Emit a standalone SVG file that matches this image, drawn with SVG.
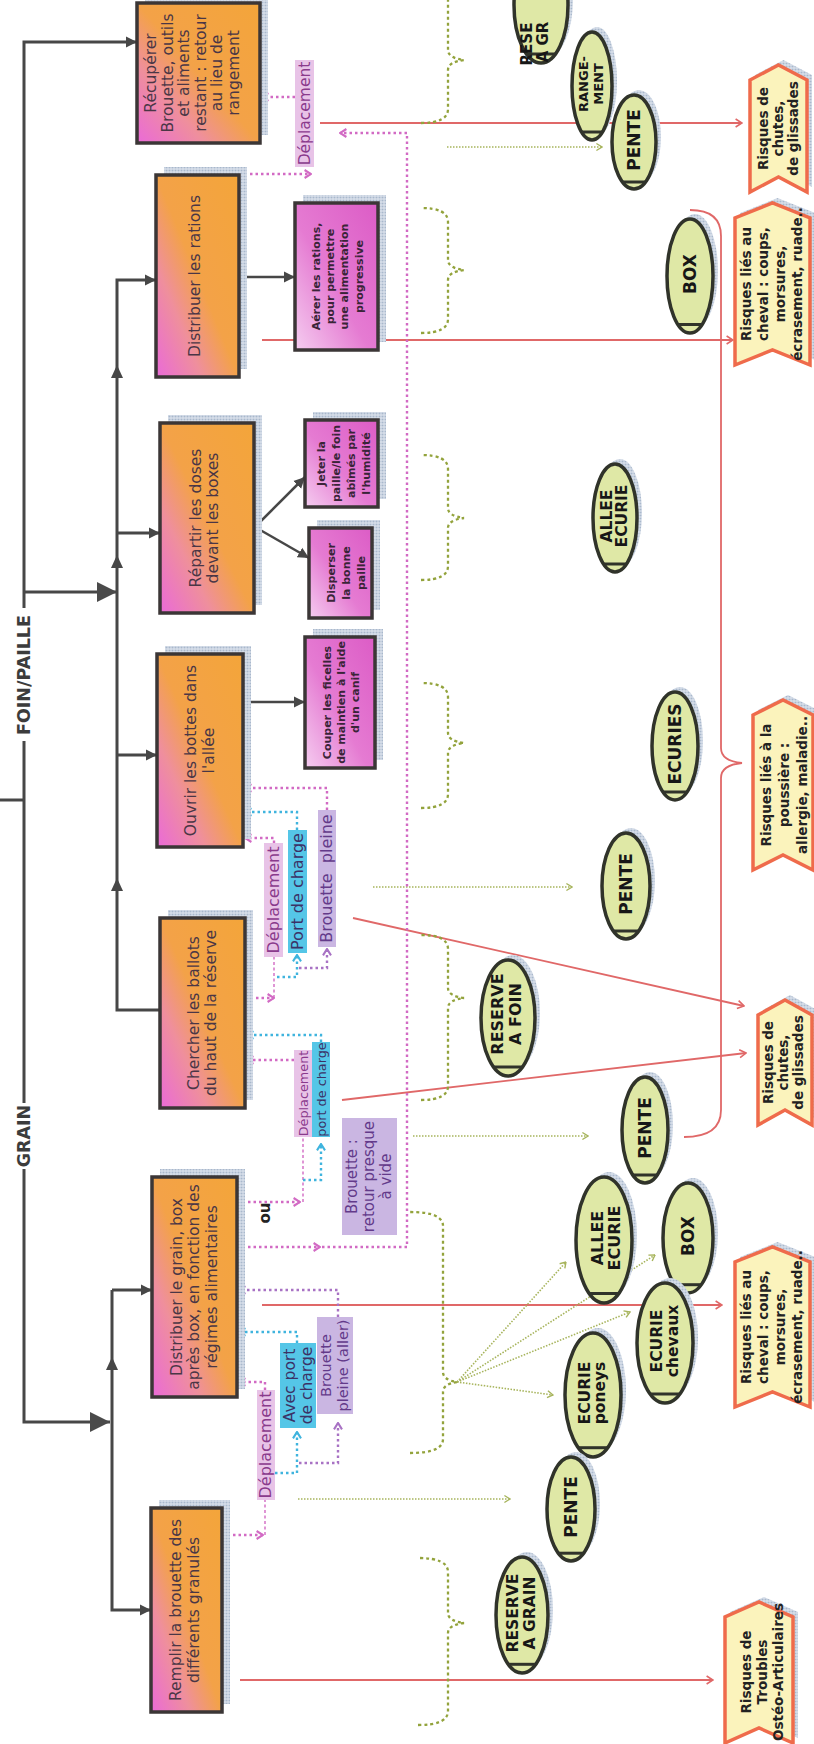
<svg xmlns="http://www.w3.org/2000/svg" width="814" height="1744" viewBox="0 0 814 1744">
<style>
  text { font-family: "DejaVu Sans", "Liberation Sans", sans-serif; }
  .bx { stroke:#3b3636; stroke-width:3.5; }
  .main { fill:url(#gMain); }
  .sub { fill:url(#gSub); }
  .shd { fill:url(#dots); }
  .mt { font-size:15.5px; fill:#4a3646; text-anchor:middle; }
  .st { font-size:11px; font-weight:bold; fill:#3a2438; text-anchor:middle; }
  .tree { fill:none; stroke:#474747; stroke-width:3; }
  .tree2 { fill:none; stroke:#474747; stroke-width:2.5; }
  .tip { fill:#474747; }
  .pk { fill:none; stroke:#d26ac4; stroke-width:2.4; stroke-dasharray:2.5 3; }
  .bl { fill:none; stroke:#3fb4de; stroke-width:2.4; stroke-dasharray:2.5 3; }
  .pu { fill:none; stroke:#a872c4; stroke-width:2.4; stroke-dasharray:2.5 3; }
  .thin { stroke-width:1.4; stroke-dasharray:3 2.5; }
  .gb { fill:none; stroke:#93a33c; stroke-width:2.3; stroke-dasharray:3 3; }
  .ga { fill:none; stroke:#a7b45c; stroke-width:1.6; stroke-dasharray:1.5 1.5; }
  .rd { fill:none; stroke:#e06868; stroke-width:1.8; }
  .ov { fill:#dfe8a6; stroke:#30332a; stroke-width:3.5; }
  .chord { stroke:#30332a; stroke-width:3; }
  .ot { font-weight:bold; fill:#171717; text-anchor:middle; }
  .rk { fill:#fbf3bc; stroke:#ef6b4b; stroke-width:3.5; }
  .rt { font-size:13.5px; font-weight:bold; fill:#222; text-anchor:middle; }
  .lp { fill:#e8c3e7; } .lpt { fill:#8a3a8c; text-anchor:middle; }
  .lb { fill:#55c6e7; } .lbt { fill:#3b3266; text-anchor:middle; }
  .lv { fill:#cab6e2; } .lvt { fill:#633a8a; text-anchor:middle; }
  .hd { font-size:17.5px; font-weight:bold; fill:#3c3c3c; text-anchor:middle; }
</style>
<defs>
  <linearGradient id="gMain" x1="0" y1="0" x2="1" y2="1">
    <stop offset="0" stop-color="#ea6ad8"/>
    <stop offset="0.28" stop-color="#ef8f9c"/>
    <stop offset="0.5" stop-color="#f3a248"/>
    <stop offset="1" stop-color="#f3a53a"/>
  </linearGradient>
  <linearGradient id="gSub" x1="0" y1="0" x2="1" y2="1">
    <stop offset="0" stop-color="#f5cdf0"/>
    <stop offset="0.45" stop-color="#e57bd2"/>
    <stop offset="1" stop-color="#dc5cc6"/>
  </linearGradient>
  <pattern id="dots" width="3" height="3" patternUnits="userSpaceOnUse">
    <rect width="3" height="3" fill="#d6dee9"/>
    <circle cx="1.5" cy="1.5" r="0.9" fill="#a9b8cc"/>
  </pattern>
  <marker id="ah" viewBox="0 0 10 10" refX="10" refY="5" markerWidth="11" markerHeight="12" markerUnits="userSpaceOnUse" orient="auto"><path d="M0,0 L10,5 L0,10 z" fill="#474747"/></marker>
  <marker id="ahBig" viewBox="0 0 10 10" refX="10" refY="5" markerWidth="22" markerHeight="20" markerUnits="userSpaceOnUse" orient="auto"><path d="M0,0 L10,5 L0,10 z" fill="#4a4a4a"/></marker>
  <marker id="cp" viewBox="0 0 10 12" refX="9" refY="6" markerWidth="8" markerHeight="11" markerUnits="userSpaceOnUse" orient="auto"><path d="M1,1 L9,6 L1,11" fill="none" stroke="#d26ac4" stroke-width="2.6"/></marker>
  <marker id="cb" viewBox="0 0 10 12" refX="9" refY="6" markerWidth="8" markerHeight="11" markerUnits="userSpaceOnUse" orient="auto"><path d="M1,1 L9,6 L1,11" fill="none" stroke="#3fb4de" stroke-width="2.6"/></marker>
  <marker id="cv" viewBox="0 0 10 12" refX="9" refY="6" markerWidth="8" markerHeight="11" markerUnits="userSpaceOnUse" orient="auto"><path d="M1,1 L9,6 L1,11" fill="none" stroke="#a872c4" stroke-width="2.6"/></marker>
  <marker id="cg" viewBox="0 0 10 12" refX="9" refY="6" markerWidth="7" markerHeight="10" markerUnits="userSpaceOnUse" orient="auto"><path d="M1,1 L9,6 L1,11" fill="none" stroke="#a7b45c" stroke-width="2"/></marker>
  <marker id="cr" viewBox="0 0 10 12" refX="9" refY="6" markerWidth="8" markerHeight="11" markerUnits="userSpaceOnUse" orient="auto"><path d="M1,1 L9,6 L1,11" fill="none" stroke="#e06868" stroke-width="2"/></marker>
</defs>
<rect width="814" height="1744" fill="#ffffff"/>

<!-- the whole sheet is laid out landscape and turned a quarter turn -->
<g id="sheet" transform="translate(0,1744) rotate(-90)">

  <g id="connectors">
    <!-- task tree -->
    <path class="tree" d="M944,0 V24"/>
    <path class="tree" d="M575,24 H322 V110" marker-end="url(#ahBig)"/>
    <path class="tree" d="M641,24 H1003"/>
    <path class="tree" d="M1136,24 H1702 V137" marker-end="url(#ah)"/>
    <path class="tree" d="M1152,24 V117" marker-end="url(#ahBig)"/>
    <path class="tree" d="M734,160 V117 H1464 V156" marker-end="url(#ah)"/>
    <path class="tree" d="M1211,117 V160" marker-end="url(#ah)"/>
    <path class="tree" d="M989,117 V157" marker-end="url(#ah)"/>
    <path class="tree" d="M454,112 H134 V151" marker-end="url(#ah)"/>
    <path class="tree" d="M454,112 V152" marker-end="url(#ah)"/>
    <path class="tip" d="M866,117 l-13,-6 v12 z"/>
    <path class="tip" d="M1189,117 l-13,-6 v12 z"/>
    <path class="tip" d="M1379,117 l-13,-6 v12 z"/>
    <path class="tip" d="M387,112 l-13,-6 v12 z"/>
    <path class="tree2" d="M1467,239 V295" marker-end="url(#ah)"/>
    <path class="tree2" d="M1042,243 V305" marker-end="url(#ah)"/>
    <path class="tree2" d="M1217,255 L1267,305" marker-end="url(#ah)"/>
    <path class="tree2" d="M1217,255 L1186,309" marker-end="url(#ah)"/>

    <!-- red risk links -->
    <path class="rd" d="M1621,320 V742" marker-end="url(#cr)"/>
    <path class="rd" d="M1404,262 V733" marker-end="url(#cr)"/>
    <path class="rd" d="M1534,690 Q1534,721 1508,721 H996 Q983,721 981,742 Q979,721 966,721 H634 Q607,721 607,684"/>
    <path class="rd" d="M826,353 L738,744" marker-end="url(#cr)"/>
    <path class="rd" d="M644,342 L691,746" marker-end="url(#cr)"/>
    <path class="rd" d="M439,262 V722" marker-end="url(#cr)"/>
    <path class="rd" d="M64,240 V713" marker-end="url(#cr)"/>

    <!-- green place braces and arrows -->
    <path class="gb" d="M1621,421 Q1621,448 1635,448 H1674 Q1682,448 1684,464 Q1686,448 1694,448 H1746 Q1760,448 1760,421"/>
    <path class="gb" d="M1411,421 Q1411,448 1425,448 H1464 Q1472,448 1474,464 Q1476,448 1484,448 H1522 Q1536,448 1536,421"/>
    <path class="gb" d="M1164,421 Q1164,448 1178,448 H1216 Q1224,448 1226,464 Q1228,448 1236,448 H1275 Q1289,448 1289,421"/>
    <path class="gb" d="M936,421 Q936,448 950,448 H991 Q999,448 1001,464 Q1003,448 1011,448 H1047 Q1061,448 1061,421"/>
    <path class="gb" d="M644,421 Q644,448 658,448 H736 Q744,448 746,464 Q748,448 756,448 H795 Q809,448 809,421"/>
    <path class="gb" d="M291,410 Q291,443 305,443 H352 Q360,443 362,457 Q364,443 372,443 H518 Q532,443 532,410"/>
    <path class="gb" d="M19,418 Q19,448 33,448 H111 Q119,448 121,464 Q123,448 131,448 H172 Q186,448 186,418"/>
    <path class="ga" d="M1597,447 V602" marker-end="url(#cg)"/>
    <path class="ga" d="M857,373 V572" marker-end="url(#cg)"/>
    <path class="ga" d="M608,413 V588" marker-end="url(#cg)"/>
    <path class="ga" d="M245,298 V510" marker-end="url(#cg)"/>
    <path class="ga" d="M362,457 L349,553" marker-end="url(#cg)"/>
    <path class="ga" d="M362,457 L432,630" marker-end="url(#cg)"/>
    <path class="ga" d="M362,457 L482,566" marker-end="url(#cg)"/>
    <path class="ga" d="M362,457 L489,655" marker-end="url(#cg)"/>

    <!-- movement links: grain -->
    <path class="pk" d="M209,222 V263" marker-end="url(#cp)"/>
    <path class="pk thin" d="M209,265 H244"/>
    <path class="pk" d="M354,265 H362 V239" marker-end="url(#cp)"/>
    <path class="bl" d="M271,275 V297 H312" marker-end="url(#cb)"/>
    <path class="bl" d="M401,297 H412 V239" marker-end="url(#cb)"/>
    <path class="pu" d="M281,299 V338 H321" marker-end="url(#cv)"/>
    <path class="pu" d="M427,338 H454 V239" marker-end="url(#cv)"/>
    <path class="pk" d="M497,237 V320" marker-end="url(#cp)"/>
    <path class="pk" d="M497,322 V407 H1611 V340" marker-end="url(#cp)"/>
    <path class="pk" d="M542,237 V300" marker-end="url(#cp)"/>
    <path class="pk thin" d="M542,303 H607"/>
    <path class="bl" d="M564,303 V321 H600" marker-end="url(#cb)"/>
    <path class="pk" d="M684,294 V247" marker-end="url(#cp)"/>
    <path class="bl" d="M702,321 H709 V247" marker-end="url(#cb)"/>

    <!-- movement links: hay / straw -->
    <path class="pk" d="M746,245 V274" marker-end="url(#cp)"/>
    <path class="pk thin" d="M746,274 H787"/>
    <path class="bl" d="M767,277 V297 H789" marker-end="url(#cb)"/>
    <path class="pu" d="M776,299 V327 H795" marker-end="url(#cv)"/>
    <path class="pk" d="M901,274 H906 V245" marker-end="url(#cp)"/>
    <path class="bl" d="M914,297 H932 V245" marker-end="url(#cb)"/>
    <path class="pk" d="M934,327 H956 V245" marker-end="url(#cp)"/>

    <!-- movement links: tidy up -->
    <path class="pk" d="M1570,239 V311" marker-end="url(#cp)"/>
    <path class="pk" d="M1647,295 V262" marker-end="url(#cp)"/>
  </g>

  <g id="labels">
    <rect x="575" y="12" width="66" height="24" fill="#fff"/>
    <text class="hd" x="608" y="30">GRAIN</text>
    <text class="hd" x="1069" y="30">FOIN/PAILLE</text>

    <rect class="lp" x="244" y="257" width="110" height="18"/>
    <text class="lpt" x="299" y="271" font-size="16">Déplacement</text>
    <rect class="lb" x="316" y="280" width="85" height="36"/>
    <text class="lbt" font-size="15.5"><tspan x="358.5" y="295">Avec port</tspan><tspan x="358.5" y="312">de charge</tspan></text>
    <rect class="lv" x="330" y="317" width="97" height="36"/>
    <text class="lvt" font-size="14.5"><tspan x="378.5" y="331">Brouette</tspan><tspan x="378.5" y="348">pleine (aller)</tspan></text>

    <text x="531" y="270" font-size="15" font-weight="bold" fill="#222" text-anchor="middle">ou</text>
    <rect class="lv" x="509" y="342" width="117" height="55"/>
    <text class="lvt" font-size="15"><tspan x="567.5" y="357">Brouette :</tspan><tspan x="567.5" y="374">retour presque</tspan><tspan x="567.5" y="391">à vide</tspan></text>
    <rect class="lp" x="607" y="294" width="87" height="18"/>
    <text class="lpt" x="650.5" y="307.5" font-size="12.8">Déplacement</text>
    <rect class="lb" x="607" y="312" width="95" height="18"/>
    <text class="lbt" x="654.5" y="325.5" font-size="12.8">port de charge</text>

    <rect class="lp" x="787" y="264" width="114" height="19"/>
    <text class="lpt" x="844" y="278.5" font-size="16">Déplacement</text>
    <rect class="lb" x="791" y="288" width="123" height="19"/>
    <text class="lbt" x="852.5" y="302.5" font-size="16">Port de charge</text>
    <rect class="lv" x="797" y="318" width="137" height="18"/>
    <text class="lvt" x="865.5" y="332" font-size="16">Brouette&#160; pleine</text>

    <rect class="lp" x="1577" y="295" width="107" height="19"/>
    <text class="lpt" x="1630.5" y="309.5" font-size="15.5">Déplacement</text>
  </g>

  <!-- task boxes -->
  <g id="n-remplir">
    <rect class="shd" x="40" y="159" width="204" height="71"/>
    <rect class="bx main" x="32" y="151" width="204" height="71"/>
    <text class="mt"><tspan x="134" y="181">Remplir la brouette des</tspan><tspan x="134" y="199">différents granulés</tspan></text>
  </g>
  <g id="n-distribuer-grain">
    <rect class="shd" x="355" y="160" width="220" height="85"/>
    <rect class="bx main" x="347" y="152" width="220" height="85"/>
    <text class="mt"><tspan x="457" y="181.5">Distribuer le grain, box</tspan><tspan x="457" y="199">après box, en fonction des</tspan><tspan x="457" y="216.5">régimes alimentaires</tspan></text>
  </g>
  <g id="n-chercher">
    <rect class="shd" x="644" y="168" width="190" height="85"/>
    <rect class="bx main" x="636" y="160" width="190" height="85"/>
    <text class="mt"><tspan x="731" y="198.5">Chercher les ballots</tspan><tspan x="731" y="216">du haut de la réserve</tspan></text>
  </g>
  <g id="n-ouvrir">
    <rect class="shd" x="905" y="165" width="193" height="86"/>
    <rect class="bx main" x="897" y="157" width="193" height="86"/>
    <text class="mt"><tspan x="993.5" y="196">Ouvrir les bottes dans</tspan><tspan x="993.5" y="213.5">l'allée</tspan></text>
  </g>
  <g id="n-repartir">
    <rect class="shd" x="1139" y="168" width="190" height="94"/>
    <rect class="bx main" x="1131" y="160" width="190" height="94"/>
    <text class="mt"><tspan x="1226" y="201">Répartir les doses</tspan><tspan x="1226" y="218">devant les boxes</tspan></text>
  </g>
  <g id="n-rations">
    <rect class="shd" x="1375" y="164" width="202" height="83"/>
    <rect class="bx main" x="1367" y="156" width="202" height="83"/>
    <text class="mt" x="1468" y="200">Distribuer les rations</text>
  </g>
  <g id="n-recuperer">
    <rect class="shd" x="1609" y="145" width="140" height="123"/>
    <rect class="bx main" x="1601" y="137" width="140" height="123"/>
    <text class="mt"><tspan x="1671" y="156">Récupérer</tspan><tspan x="1671" y="172.6">Brouette, outils</tspan><tspan x="1671" y="189.2">et aliments</tspan><tspan x="1671" y="205.8">restant : retour</tspan><tspan x="1671" y="222.4">au lieu de</tspan><tspan x="1671" y="239">rangement</tspan></text>
  </g>

  <!-- detail boxes -->
  <g id="n-aerer">
    <rect class="shd" x="1402" y="303" width="147" height="83"/>
    <rect class="bx sub" x="1394" y="295" width="147" height="83"/>
    <text class="st"><tspan x="1467.5" y="320">Aérer les rations,</tspan><tspan x="1467.5" y="334.2">pour permettre</tspan><tspan x="1467.5" y="348.4">une alimentation</tspan><tspan x="1467.5" y="362.6">progressive</tspan></text>
  </g>
  <g id="n-jeter">
    <rect class="shd" x="1245" y="313" width="87" height="73"/>
    <rect class="bx sub" x="1237" y="305" width="87" height="73"/>
    <text class="st"><tspan x="1280.5" y="325">Jeter la</tspan><tspan x="1280.5" y="340">paille/le foin</tspan><tspan x="1280.5" y="355">abîmés par</tspan><tspan x="1280.5" y="370">l'humidité</tspan></text>
  </g>
  <g id="n-disperser">
    <rect class="shd" x="1134" y="317" width="90" height="63"/>
    <rect class="bx sub" x="1126" y="309" width="90" height="63"/>
    <text class="st"><tspan x="1171" y="335">Disperser</tspan><tspan x="1171" y="350">la bonne</tspan><tspan x="1171" y="365">paille</tspan></text>
  </g>
  <g id="n-couper">
    <rect class="shd" x="984" y="313" width="131" height="70"/>
    <rect class="bx sub" x="976" y="305" width="131" height="70"/>
    <text class="st"><tspan x="1041.5" y="331">Couper les ficelles</tspan><tspan x="1041.5" y="345">de maintien à l'aide</tspan><tspan x="1041.5" y="359">d'un canif</tspan></text>
  </g>

  <!-- places -->
  <g id="p-reserve-grain-haut">
    <ellipse class="shd" cx="1744" cy="546" rx="58" ry="27"/>
    <ellipse class="ov" cx="1739" cy="541" rx="58" ry="27"/>
    <line class="chord" x1="1690" y1="527" x2="1690" y2="555"/>
    <text class="ot" font-size="15" text-anchor="start"><tspan x="1700" y="532">RESE</tspan><tspan x="1702" y="548">A GR</tspan></text>
  </g>
  <g id="p-rangement">
    <ellipse class="shd" cx="1663" cy="597" rx="54" ry="20"/>
    <ellipse class="ov" cx="1658" cy="592" rx="54" ry="20"/>
    <line class="chord" x1="1612" y1="581.5" x2="1612" y2="602.5"/>
    <text class="ot" font-size="13"><tspan x="1660" y="588">RANGE-</tspan><tspan x="1660" y="603">MENT</tspan></text>
  </g>
  <g id="p-pente-1">
    <ellipse class="shd" cx="1607" cy="639" rx="47" ry="22"/>
    <ellipse class="ov" cx="1602" cy="634" rx="47" ry="22"/>
    <line class="chord" x1="1562" y1="622.4" x2="1562" y2="645.6"/>
    <text class="ot" font-size="17" x="1604" y="640">PENTE</text>
  </g>
  <g id="p-box-1">
    <ellipse class="shd" cx="1473" cy="695" rx="57" ry="23"/>
    <ellipse class="ov" cx="1468" cy="690" rx="57" ry="23"/>
    <line class="chord" x1="1419.5" y1="677.9" x2="1419.5" y2="702.1"/>
    <text class="ot" font-size="17" x="1470" y="696">BOX</text>
  </g>
  <g id="p-allee-1">
    <ellipse class="shd" cx="1231" cy="620" rx="54" ry="22"/>
    <ellipse class="ov" cx="1226" cy="615" rx="54" ry="22"/>
    <line class="chord" x1="1180" y1="603.4" x2="1180" y2="626.6"/>
    <text class="ot" font-size="15.5"><tspan x="1228" y="612">ALLEE</tspan><tspan x="1228" y="627">ECURIE</tspan></text>
  </g>
  <g id="p-ecuries">
    <ellipse class="shd" cx="1003" cy="680" rx="54" ry="23"/>
    <ellipse class="ov" cx="998" cy="675" rx="54" ry="23"/>
    <line class="chord" x1="952" y1="662.9" x2="952" y2="687.1"/>
    <text class="ot" font-size="17" x="1000" y="681">ECURIES</text>
  </g>
  <g id="p-pente-2">
    <ellipse class="shd" cx="863" cy="631" rx="53" ry="24"/>
    <ellipse class="ov" cx="858" cy="626" rx="53" ry="24"/>
    <line class="chord" x1="813" y1="613.4" x2="813" y2="638.6"/>
    <text class="ot" font-size="17" x="860" y="632">PENTE</text>
  </g>
  <g id="p-reserve-foin">
    <ellipse class="shd" cx="731" cy="513" rx="58" ry="27"/>
    <ellipse class="ov" cx="726" cy="508" rx="58" ry="27"/>
    <line class="chord" x1="677" y1="494" x2="677" y2="522"/>
    <text class="ot" font-size="16"><tspan x="730" y="503">RESERVE</tspan><tspan x="730" y="521">A FOIN</tspan></text>
  </g>
  <g id="p-pente-3">
    <ellipse class="shd" cx="619" cy="650" rx="53" ry="23"/>
    <ellipse class="ov" cx="614" cy="645" rx="53" ry="23"/>
    <line class="chord" x1="569" y1="632.9" x2="569" y2="657.1"/>
    <text class="ot" font-size="17" x="616" y="651">PENTE</text>
  </g>
  <g id="p-allee-2">
    <ellipse class="shd" cx="509" cy="609" rx="63" ry="28"/>
    <ellipse class="ov" cx="504" cy="604" rx="63" ry="28"/>
    <line class="chord" x1="450.5" y1="589.2" x2="450.5" y2="618.8"/>
    <text class="ot" font-size="16"><tspan x="506" y="603">ALLEE</tspan><tspan x="506" y="620">ECURIE</tspan></text>
  </g>
  <g id="p-box-2">
    <ellipse class="shd" cx="511" cy="693" rx="55" ry="25"/>
    <ellipse class="ov" cx="506" cy="688" rx="55" ry="25"/>
    <line class="chord" x1="459.3" y1="674.8" x2="459.3" y2="701.2"/>
    <text class="ot" font-size="17" x="508" y="694">BOX</text>
  </g>
  <g id="p-ecurie-chevaux">
    <ellipse class="shd" cx="406" cy="670" rx="60" ry="28"/>
    <ellipse class="ov" cx="401" cy="665" rx="60" ry="28"/>
    <line class="chord" x1="350" y1="650.2" x2="350" y2="679.8"/>
    <text class="ot" font-size="15.5"><tspan x="403" y="662">ECURIE</tspan><tspan x="403" y="678">chevaux</tspan></text>
  </g>
  <g id="p-ecurie-poneys">
    <ellipse class="shd" cx="354" cy="598" rx="62" ry="28"/>
    <ellipse class="ov" cx="349" cy="593" rx="62" ry="28"/>
    <line class="chord" x1="296.3" y1="578.2" x2="296.3" y2="607.8"/>
    <text class="ot" font-size="15.5"><tspan x="351" y="590">ECURIE</tspan><tspan x="351" y="605">poneys</tspan></text>
  </g>
  <g id="p-pente-4">
    <ellipse class="shd" cx="240" cy="576" rx="52" ry="24"/>
    <ellipse class="ov" cx="235" cy="571" rx="52" ry="24"/>
    <line class="chord" x1="190.8" y1="558.4" x2="190.8" y2="583.6"/>
    <text class="ot" font-size="17" x="237" y="577">PENTE</text>
  </g>
  <g id="p-reserve-grain">
    <ellipse class="shd" cx="134" cy="527" rx="58" ry="26"/>
    <ellipse class="ov" cx="129" cy="522" rx="58" ry="26"/>
    <line class="chord" x1="79.7" y1="508.3" x2="79.7" y2="535.7"/>
    <text class="ot" font-size="15.5"><tspan x="131" y="518">RESERVE</tspan><tspan x="131" y="535">A GRAIN</tspan></text>
  </g>

  <!-- risks -->
  <g id="r-chutes-1">
    <polygon class="shd" transform="translate(5,5)" points="1552,750 1664,750 1679,778.5 1664,807 1552,807 1567,778.5"/>
    <polygon class="rk" points="1552,750 1664,750 1679,778.5 1664,807 1552,807 1567,778.5"/>
    <text class="rt"><tspan x="1615.5" y="768">Risques de</tspan><tspan x="1615.5" y="783">chutes,</tspan><tspan x="1615.5" y="798">de glissades</tspan></text>
  </g>
  <g id="r-cheval-1">
    <polygon class="shd" transform="translate(5,5)" points="1379,735 1526,735 1541,772.5 1526,810 1379,810 1394,772.5"/>
    <polygon class="rk" points="1379,735 1526,735 1541,772.5 1526,810 1379,810 1394,772.5"/>
    <text class="rt"><tspan x="1460" y="751">Risques liés au</tspan><tspan x="1460" y="768">cheval : coups,</tspan><tspan x="1460" y="785">morsures,</tspan><tspan x="1460" y="802">écrasement, ruade..</tspan></text>
  </g>
  <g id="r-poussiere">
    <polygon class="shd" transform="translate(5,5)" points="874,753 1029,753 1044,783 1029,813 874,813 889,783"/>
    <polygon class="rk" points="874,753 1029,753 1044,783 1029,813 874,813 889,783"/>
    <text class="rt"><tspan x="959" y="771">Risques liés à la</tspan><tspan x="959" y="789">poussière :</tspan><tspan x="959" y="807">allergie, maladie..</tspan></text>
  </g>
  <g id="r-chutes-2">
    <polygon class="shd" transform="translate(5,5)" points="619,758 729,758 744,785 729,812 619,812 634,785"/>
    <polygon class="rk" points="619,758 729,758 744,785 729,812 619,812 634,785"/>
    <text class="rt"><tspan x="681.5" y="773">Risques de</tspan><tspan x="681.5" y="788">chutes,</tspan><tspan x="681.5" y="803">de glissades</tspan></text>
  </g>
  <g id="r-cheval-2">
    <polygon class="shd" transform="translate(5,5)" points="337,735 482,735 497,772.5 482,810 337,810 352,772.5"/>
    <polygon class="rk" points="337,735 482,735 497,772.5 482,810 337,810 352,772.5"/>
    <text class="rt"><tspan x="417" y="751">Risques liés au</tspan><tspan x="417" y="768">cheval : coups,</tspan><tspan x="417" y="785">morsures,</tspan><tspan x="417" y="802">écrasement, ruade..</tspan></text>
  </g>
  <g id="r-tms">
    <polygon class="shd" transform="translate(5,5)" points="1,725 127,725 142,759 127,793 1,793 16,759"/>
    <polygon class="rk" points="1,725 127,725 142,759 127,793 1,793 16,759"/>
    <text class="rt" font-size="12.5"><tspan x="72" y="751">Risques de</tspan><tspan x="72" y="767">Troubles</tspan><tspan x="72" y="783">Ostéo-Articulaires</tspan></text>
  </g>
</g>
</svg>
